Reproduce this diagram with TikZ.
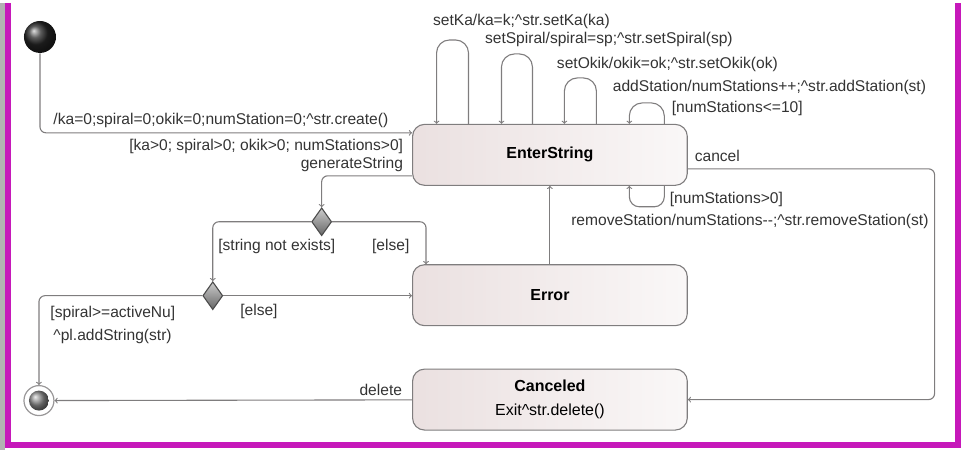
\documentclass[tikz,border=0pt]{standalone}
\usepackage{fontspec}
\setmainfont{Liberation Sans}
\definecolor{M}{RGB}{198,24,186}
\definecolor{L}{cmyk}{0.00,0.00,0.00,0.58}
\definecolor{S}{cmyk}{0.00,0.04,0.04,0.08}
\definecolor{W}{cmyk}{0.00,0.01,0.01,0.02}
\usetikzlibrary{arrows}
\usetikzlibrary{shapes.geometric}
\tikzstyle{base}=[x=1pt, y=-1pt, font=\fontsize{15.6}{18}\selectfont, line width=1.1pt]
\tikzstyle{state}=[draw=L, rounded corners=12pt, left color=S, right color=W, minimum width=275pt, minimum height=61pt, font=\fontsize{16}{18}\selectfont\bfseries]
\tikzstyle{choice}=[diamond, draw=black!70, top color=black!20, bottom color=black!60, minimum width=20pt, minimum height=28pt, inner sep=0pt]
\tikzstyle{lbl}=[inner sep=0pt, text=black!80]
\tikzstyle{trans}=[draw=L, rounded corners=6pt, ->, >=to]

\begin{document}
\begin{tikzpicture}[base]
    \fill [black!30] (0,0) rectangle (5,447);
    \draw [M, line width=6pt] (8.5,0) -- (8.5,442) -- (959,442) -- (959,0);
    \path [use as bounding box] (0,0) rectangle (961,447);

    \node [state] (enter) at (550.5,152) {EnterString};
    \node [state] (error) at (550.5,292.5) {Error};
    \node [state, align=center] (canceled) at (550.5,397) {Canceled\\[6pt]\mdseries Exit\textasciicircum str.delete()};

    \node [circle, minimum size=32pt, inner sep=0pt, ball color=black!85] (init) at (40,34) {};
    \node [circle, draw=L!80, fill=white, minimum size=30pt, inner sep=0pt, line width=1.2pt] (final) at (39,398) {};
    \node [circle, minimum size=20pt, inner sep=0pt, ball color=black!45] (finaldot) at (final) {};

    \node [choice] (dec1) at (322,219) {};
    \node [choice] (dec2) at (213,293) {};

    \draw [trans] (init) |- ([yshift=-9pt]enter.north west);
    \draw [trans] ([yshift=-21pt]enter.west) -| (dec1);
    \draw [trans] (dec1) -| (dec2);
    \draw [trans] (dec1) -| ([xshift=14pt]error.north west);
    \draw [trans] (dec2) -- (dec2 -| error.west);
    \draw [trans] (dec2) -| (final);
    \draw [trans] (error) -- (enter);
    \draw [trans] ([yshift=-14pt]enter.east) -| ([xshift=247pt]canceled.east) -- (canceled.east);
    \draw [trans] (canceled) -- (final);
    \foreach \r/\l/\t in {469/437/37, 533/502/51, 597/565/75, 665/630/100}
        \draw [trans, rounded corners=13pt] (\r,0 |- enter.north) |- (\l,\t) -- (\l,0 |- enter.north);
    \draw [trans, rounded corners=10pt] (665,0 |- enter.south) |- (630,204) -- (630,0 |- enter.south);

    \node [lbl, anchor=west] (tcreate) at (53,118) {/ka=0;spiral=0;okik=0;numStation=0;\textasciicircum str.create()};
    \node [lbl, anchor=east] (tguard) at (404,144) {[ka>0; spiral>0; okik>0; numStations>0]};
    \node [lbl, anchor=east] (tgenerate) at (404,162) {generateString};
    \node [lbl, anchor=west] (tsetka) at (433,18) {setKa/ka=k;\textasciicircum str.setKa(ka)};
    \node [lbl, anchor=west] (tsetspiral) at (485,37) {setSpiral/spiral=sp;\textasciicircum str.setSpiral(sp)};
    \node [lbl, anchor=west] (tsetokik) at (557,62) {setOkik/okik=ok;\textasciicircum str.setOkik(ok)};
    \node [lbl, anchor=west] (tadd) at (613,85) {addStation/numStations++;\textasciicircum str.addStation(st)};
    \node [lbl, anchor=west] (taddguard) at (672,106) {[numStations<=10]};
    \node [lbl, anchor=west] (tcancel) at (695,153) {cancel};
    \node [lbl, anchor=west] (tremguard) at (670,197) {[numStations>0]};
    \node [lbl, anchor=east] (tremove) at (930,219) {removeStation/numStations-{}-;\textasciicircum str.removeStation(st)};
    \node [lbl, anchor=west] (tnotexists) at (218,244) {[string not exists]};
    \node [lbl, anchor=west] (telse1) at (372,244) {[else]};
    \node [lbl, anchor=west] (telse2) at (240,309) {[else]};
    \node [lbl, anchor=west] (tspiral) at (50,311) {[spiral>=activeNu]};
    \node [lbl, anchor=west] (taddstring) at (53,334) {\textasciicircum pl.addString(str)};
    \node [lbl, anchor=east] (tdelete) at (403,387) {delete};
\end{tikzpicture}
\end{document}
